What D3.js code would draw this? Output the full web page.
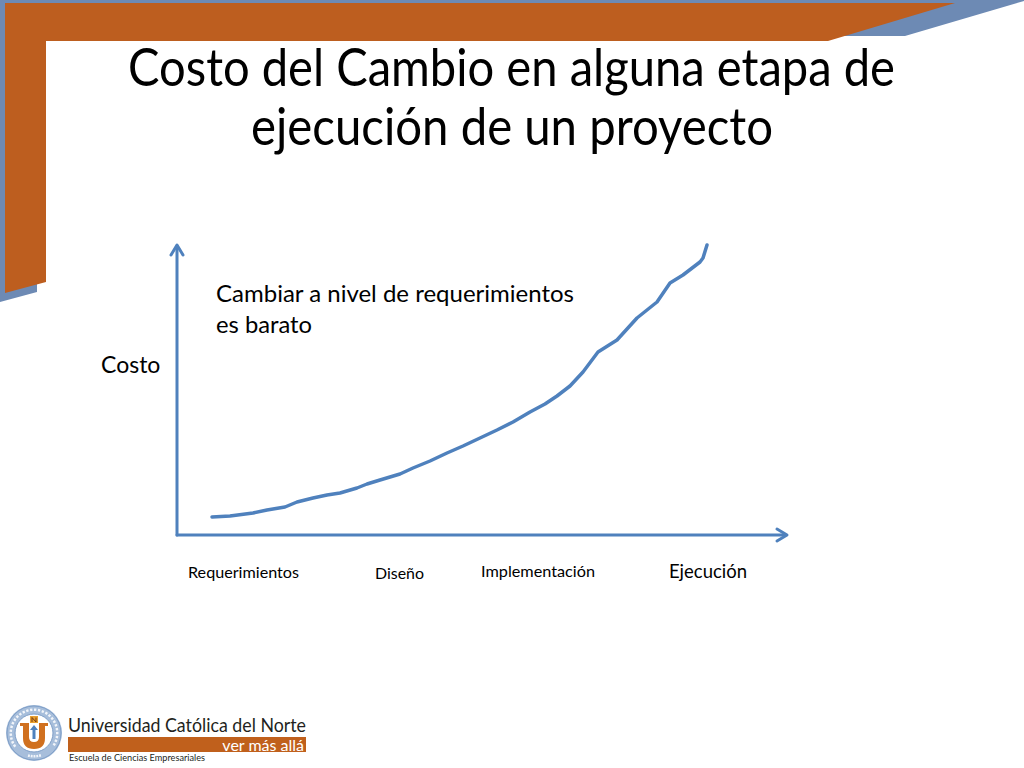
<!DOCTYPE html>
<html><head><meta charset="utf-8">
<script src="https://cdn.jsdelivr.net/npm/d3@7"></script>
<style>html,body{margin:0;padding:0;background:#fff;overflow:hidden}svg{display:block}</style>
</head><body>
<svg id="c" width="1024" height="768"></svg>
<script>
// ---- data ----
const titleLines = ["Costo del Cambio en alguna etapa de", "ejecución de un proyecto"];
const stageLabels = ["Requerimientos", "Diseño", "Implementación"];
const xAxisTitle = "Ejecución";
const yAxisTitle = "Costo";
const noteLines = ["Cambiar a nivel de requerimientos", "es barato"];
// cost curve (execution progress, cost)
const progress = [35,53,76,90,108,120,136,150,163,180,190,203,223,236,253,270,286,303,320,336,353,368,380,393,406,421,440,460,480,493,506,523,526,530];
const cost     = [18,19,22,25,28,33,37,40,42,47,51,55,61,67,74,82,89,97,105,113,123,131,139,149,163,183,195,217,233,252,260,273,277,290];

const svg = d3.select("#c");
const FONT = "Lato, 'Open Sans', sans-serif";
const BLUE = "#4f81bd", ORANGE = "#bd5e1f", FRAME = "#6d8ab4";

// ---- frame ----
svg.append("polygon").attr("fill", FRAME)
  .attr("points", "0,0 1024,0 1024,1 905,36 600,36 600,41 37,41 37,292 0,302");
svg.append("polygon").attr("fill", ORANGE)
  .attr("points", "5,3 955,3 828,41 46,41 46,282 5,293");

// ---- title ----
const titleY = [86, 145], titleX = [[128, 895], [251, 773]];
titleLines.forEach((t, i) => {
  svg.append("text").attr("x", titleX[i][0]).attr("y", titleY[i])
    .attr("font-family", FONT).attr("font-size", 52).attr("fill", "#000")
    .attr("textLength", titleX[i][1] - titleX[i][0]).attr("lengthAdjust", "spacingAndGlyphs")
    .text(t);
});

// ---- scales ----
const x = d3.scaleLinear().domain([0, 610]).range([177, 787]);
const y = d3.scaleLinear().domain([0, 290]).range([535, 245]);

// axes with arrowheads
const axisG = svg.append("g").attr("stroke", BLUE).attr("stroke-width", 3).attr("fill", "none")
  .attr("stroke-linecap", "round").attr("stroke-linejoin", "round");
axisG.append("line").attr("x1", x(0)).attr("y1", y(0)).attr("x2", x(0)).attr("y2", y(288));
axisG.append("line").attr("x1", x(0)).attr("y1", y(0)).attr("x2", x(607)).attr("y2", y(0));
axisG.append("path").attr("d", `M${x(0)-6},${y(290)+10} L${x(0)},${y(290)} L${x(0)+6},${y(290)+10}`);
axisG.append("path").attr("d", `M${x(610)-10},${y(0)-6} L${x(610)},${y(0)} L${x(610)-10},${y(0)+6}`);

// curve
const pts = progress.map((p, i) => [p, cost[i]]);
svg.append("path").datum(pts)
  .attr("fill", "none").attr("stroke", BLUE).attr("stroke-width", 3.5)
  .attr("stroke-linecap", "round").attr("stroke-linejoin", "round")
  .attr("d", d3.line().x(d => x(d[0])).y(d => y(d[1])).curve(d3.curveLinear));

// stage labels
const stageX = [188, 375, 481], stageY = [578, 579, 577], stageW = [111, 49, 114];
stageLabels.forEach((s, i) => {
  svg.append("text").attr("x", stageX[i]).attr("y", stageY[i])
    .attr("font-family", FONT).attr("font-size", 15).attr("fill", "#000")
    .attr("textLength", stageW[i]).attr("lengthAdjust", "spacingAndGlyphs")
    .text(s);
});
svg.append("text").attr("x", 669).attr("y", 578).attr("font-family", FONT).attr("font-size", 19)
  .attr("textLength", 78).attr("lengthAdjust", "spacingAndGlyphs").text(xAxisTitle);
svg.append("text").attr("x", 101).attr("y", 373).attr("font-family", FONT).attr("font-size", 23)
  .text(yAxisTitle);
noteLines.forEach((t, i) => {
  svg.append("text").attr("x", 216).attr("y", [302, 333][i]).attr("font-family", FONT).attr("font-size", 23)
    .attr("textLength", [358, 96][i]).attr("lengthAdjust", "spacingAndGlyphs").text(t);
});

// ---- logo ----
const lg = svg.append("g");
const cx = 34, cy = 733;
lg.append("circle").attr("cx", cx).attr("cy", cy).attr("r", 28).attr("fill", "#a7bedb");
lg.append("circle").attr("cx", cx).attr("cy", cy).attr("r", 27).attr("fill", "none").attr("stroke", "#7f9fc8").attr("stroke-width", 1);
lg.append("circle").attr("cx", cx).attr("cy", cy).attr("r", 19).attr("fill", "#fff").attr("stroke", "#7f9fc8").attr("stroke-width", 1);
// ring lettering drawn as small strokes (illegible at this size in the reference)
const ringArc = d3.arc().innerRadius(22).outerRadius(24.5);
const ringG = lg.append("g").attr("transform", `translate(${cx},${cy})`);
d3.range(26).forEach(k => {
  const a0 = -2.2 + k * (4.4 / 26);
  ringG.append("path").attr("d", ringArc({startAngle: a0, endAngle: a0 + 0.1})).attr("fill", "#fff").attr("opacity", 0.85);
});
d3.range(5).forEach(k => {
  const a0 = Math.PI - 0.3 + k * 0.12;
  ringG.append("path").attr("d", ringArc({startAngle: a0, endAngle: a0 + 0.08})).attr("fill", "#fff").attr("opacity", 0.85);
});
// orange U
lg.append("path").attr("fill", "#d0701f")
  .attr("d", `M${cx-14},${cy-10} h9 v14 q0,5 5,5 q5,0 5,-5 v-14 h9 v3 h-3 v12 q0,11 -11,11 q-11,0 -11,-11 v-12 h-3 z`);
lg.append("rect").attr("x", cx-4).attr("y", cy-17).attr("width", 8).attr("height", 7).attr("fill", "#e8a030");
lg.append("path").attr("fill", "none").attr("stroke", "#7a3a10").attr("stroke-width", 1)
  .attr("d", `M${cx-2},${cy-11} v-4.5 l4,4.5 v-4.5`);
lg.append("path").attr("fill", "#4f81bd").attr("d", `M${cx},${cy-8} l4,5 h-2.5 v9 h-3 v-9 h-2.5 z`);

svg.append("text").attr("x", 68).attr("y", 732).attr("font-family", FONT).attr("font-size", 19).attr("fill", "#231f20")
  .attr("textLength", 238).attr("lengthAdjust", "spacingAndGlyphs").text("Universidad Católica del Norte");
svg.append("rect").attr("x", 68).attr("y", 737).attr("width", 238).attr("height", 15).attr("fill", "#c0601c");
svg.append("text").attr("x", 304).attr("y", 750.5).attr("text-anchor", "end").attr("font-family", FONT)
  .attr("font-size", 16).attr("fill", "#fff").text("ver más allá");
svg.append("text").attr("x", 69).attr("y", 761).attr("font-family", FONT).attr("font-size", 10).attr("fill", "#231f20")
  .attr("textLength", 136).attr("lengthAdjust", "spacingAndGlyphs").text("Escuela de Ciencias Empresariales");
</script>
</body></html>
